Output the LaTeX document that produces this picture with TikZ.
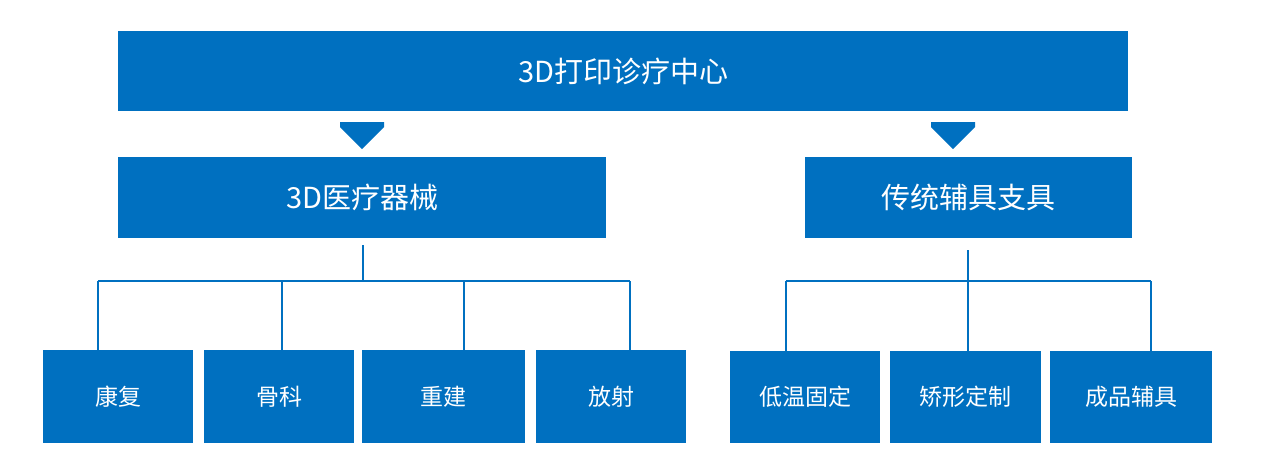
\documentclass[tikz,border=0pt]{standalone}
\usepackage{fontspec}
\setmainfont{Noto Sans CJK SC}
\usetikzlibrary{shapes.arrows}
\definecolor{mb}{HTML}{0070C0}
\begin{document}
\begin{tikzpicture}[x=1pt,y=-1pt,
  bx/.style={fill=mb,text=white,inner sep=0pt,anchor=north west},
  big/.style={bx,font=\fontsize{29}{32}\selectfont},
  small/.style={bx,font=\fontsize{23}{26}\selectfont},
  ln/.style={draw=mb,line width=1.6pt},
  dar/.style={single arrow,shape border rotate=270,fill=mb,minimum height=27pt,minimum width=44pt,single arrow head extend=0pt,inner sep=0pt,single arrow tip angle=90}]
\useasboundingbox (0,0) rectangle (1276,475);
\node[big,minimum width=1010pt,minimum height=80pt] (top) at (118,31) {3D打印诊疗中心};
\node[dar,anchor=north] (a1) at (362,122) {};
\node[dar,anchor=north] (a2) at (953,122) {};
\node[big,minimum width=488pt,minimum height=81pt] (l) at (118,157) {3D医疗器械};
\node[big,minimum width=327pt,minimum height=81pt] (r) at (805,157) {传统辅具支具};
\node[small,minimum width=150pt,minimum height=93pt] (b1) at (43,350) {康复};
\node[small,minimum width=150pt,minimum height=93pt] (b2) at (204,350) {骨科};
\node[small,minimum width=163pt,minimum height=93pt] (b3) at (362,350) {重建};
\node[small,minimum width=150pt,minimum height=93pt] (b4) at (536,350) {放射};
\node[small,minimum width=150pt,minimum height=92pt] (c1) at (730,351) {低温固定};
\node[small,minimum width=151pt,minimum height=92pt] (c2) at (890,351) {矫形定制};
\node[small,minimum width=162pt,minimum height=92pt] (c3) at (1050,351) {成品辅具};
\coordinate (lh) at (363,281);
\coordinate (rh) at (968,281);
\draw[ln] (363,245) -- (lh);
\draw[ln] (98,281) -- (630,281);
\draw[ln] (98,281) -- (98,350);
\draw[ln] (282,281) -- (282,350);
\draw[ln] (464,281) -- (464,350);
\draw[ln] (630,281) -- (630,350);
\draw[ln] (968,250) -- (rh);
\draw[ln] (786,281) -- (1151,281);
\draw[ln] (786,281) -- (786,351);
\draw[ln] (968,281) -- (968,351);
\draw[ln] (1151,281) -- (1151,351);
\end{tikzpicture}
\end{document}
